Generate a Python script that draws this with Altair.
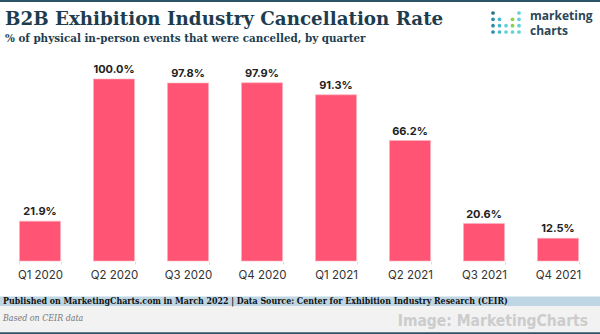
import altair as alt
import pandas as pd

quarters = ["Q1 2020", "Q2 2020", "Q3 2020", "Q4 2020", "Q1 2021", "Q2 2021", "Q3 2021", "Q4 2021"]
rates = [21.9, 100.0, 97.8, 97.9, 91.3, 66.2, 20.6, 12.5]
labels = ["21.9%", "100.0%", "97.8%", "97.9%", "91.3%", "66.2%", "20.6%", "12.5%"]

title_text = "B2B Exhibition Industry Cancellation Rate"
subtitle_text = "% of physical in-person events that were cancelled, by quarter"
source_text = "Published on MarketingCharts.com in March 2022 | Data Source: Center for Exhibition Industry Research (CEIR)"
note_text = "Based on CEIR data"
credit_text = "Image: MarketingCharts"

df = pd.DataFrame({"q": quarters, "v": rates, "lab": labels})

BAR = "#ff5473"
DARK = "#1d3d4f"
PT = 79  # top padding

xscale = alt.Scale(paddingInner=0.445, paddingOuter=0.2225)
xenc = alt.X("q:N", sort=quarters, title=None, scale=xscale,
             axis=alt.Axis(labelAngle=0, labelFont="Inter", labelFontSize=11.5, labelColor="#333",
                           labelPadding=5, tickBand="extent", tickSize=3, tickColor="#dddddd",
                           domain=False, grid=False))
yenc = alt.Y("v:Q", scale=alt.Scale(domain=[0, 100]), axis=None)

base = alt.Chart(df)
bars = base.mark_bar(color=BAR, stroke="#ffb3c0", strokeWidth=0.6).encode(x=xenc, y=yenc)
vals = base.mark_text(baseline="alphabetic", dy=-6, font="Inter", fontWeight="bold",
                      fontSize=11, color="#222").encode(x=xenc, y=yenc, text="lab:N")
main = alt.layer(bars, vals)

one = pd.DataFrame({"a": [0]})
def rect(y1, y2, color):
    return alt.Chart(one).mark_rect(color=color).encode(
        x=alt.value(-3), x2=alt.value(597), y=alt.value(y1 - PT), y2=alt.value(y2 - PT))

def txt(t, x, y, size, color, weight="normal", font="DejaVu Serif", align="left", style="normal"):
    return alt.Chart(one).mark_text(text=t, align=align, baseline="alphabetic", fontSize=size,
                                    color=color, fontWeight=weight, font=font, fontStyle=style).encode(
        x=alt.value(x - 3), y=alt.value(y - PT))

top_line = rect(0, 2, "#2d5366")
band1 = rect(296.5, 306, "#bed6e3")
band2 = rect(306, 332.3, "#f2f2f2")
bottom_line = rect(332.3, 334, "#2d5366")

title = txt(title_text, 5, 25, 18.3, DARK, "bold", "DejaVu Serif")
subtitle = txt(subtitle_text, 5, 42, 11.5, DARK, "bold", "DejaVu Serif Condensed")
source = txt(source_text, 3, 304, 8.8, "#111", "bold", "DejaVu Serif Condensed")
note = txt(note_text, 3, 321, 8.8, "#777", "normal", "DejaVu Serif Condensed", style="italic")
credit = txt(credit_text, 588, 325.5, 15.5, "#cccccc", "bold", "DejaVu Sans Condensed", align="right")
logo1 = txt("marketing", 530, 19.5, 12, "#2a4657", "bold", "Open Sans")
logo2 = txt("charts", 530, 35, 12, "#2a4657", "bold", "Open Sans")

# logo dots
dot_col = [0, 4, 0, 1, 3, 4, 0, 1, 2, 3, 4, 0, 1, 2, 3, 4]
dot_row = [0, 0, 1, 1, 1, 1, 2, 2, 2, 2, 2, 3, 3, 3, 3, 3]
dot_c = ["#2a6f8a", "#5fd3d8", "#2a8cab", "#48b8d0", "#8bd14a", "#5fd3d8",
         "#2a8cab", "#48b8d0", "#5fd3d8", "#8bd14a", "#5fd3d8",
         "#2a8cab", "#48b8d0", "#5fd3d8", "#5fd3d8", "#5fd3d8"]
dots_df = pd.DataFrame({"c": dot_col, "r": dot_row, "col": dot_c})
dots = alt.Chart(dots_df).mark_circle(size=14, opacity=1).encode(
    x=alt.X("c:Q", scale=alt.Scale(domain=[0, 4], range=[493 - 3, 519 - 3]), axis=None),
    y=alt.Y("r:Q", scale=alt.Scale(domain=[0, 3], range=[13 - PT, 32 - PT]), axis=None),
    color=alt.Color("col:N", scale=None, legend=None))

chart = alt.layer(top_line, band1, band2, bottom_line, main, title, subtitle,
                  source, note, credit, logo1, logo2, dots).resolve_scale(
    x="independent", y="independent").properties(
    width=592, height=182,
    autosize=alt.AutoSizeParams(type="none"),
    padding={"left": 3, "top": PT, "right": 5, "bottom": 73},
).configure_view(stroke=None)

chart.save("out.html", embed_options={"renderer": "svg", "actions": False})
